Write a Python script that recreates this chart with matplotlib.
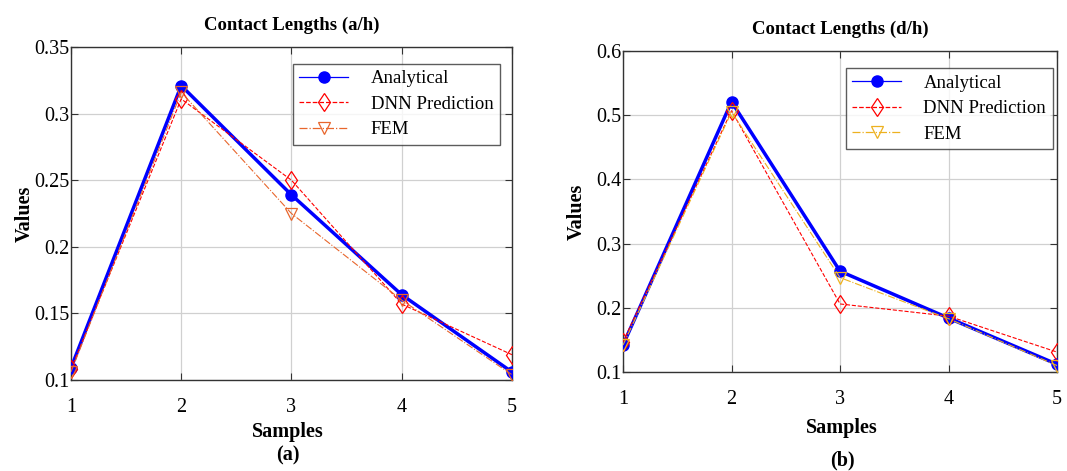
import matplotlib
matplotlib.use("Agg")
import matplotlib.pyplot as plt

plt.rcParams['font.family'] = ['Liberation Serif', 'DejaVu Serif']

samples = [1, 2, 3, 4, 5]

# contact length a/h
ah_analytical = [0.109, 0.321, 0.239, 0.164, 0.106]
ah_dnn = [0.108, 0.311, 0.250, 0.157, 0.119]
ah_fem = [0.106, 0.316, 0.225, 0.160, 0.104]

# contact length d/h
dh_analytical = [0.142, 0.521, 0.257, 0.184, 0.112]
dh_dnn = [0.147, 0.507, 0.206, 0.187, 0.131]
dh_fem = [0.142, 0.505, 0.247, 0.183, 0.110]

yticks_a = [0.1, 0.15, 0.2, 0.25, 0.3, 0.35]
yticks_b = [0.1, 0.2, 0.3, 0.4, 0.5, 0.6]

W, H = 1067, 471


def draw_panel(fig, ax, analytical, dnn, fem, fem_color, title, tag, yticks,
               ylabels, leg_anchor, ylabel_pad, label_xy, tag_y):
    ax.plot(samples, analytical, '-o', color='#0000ff', lw=2.5, ms=8,
            label='Analytical', zorder=3)
    ax.plot(samples, dnn, '--d', color='#ff0000', lw=0.8, ms=9.5,
            mfc='none', mew=0.9, label='DNN Prediction', zorder=4)
    ax.plot(samples, fem, '-.v', color=fem_color, lw=0.8, ms=8.5,
            mfc='none', mew=0.9, label='FEM', zorder=4)

    ax.set_xlim(1, 5)
    ax.set_ylim(yticks[0], yticks[-1])
    ax.set_xticks(samples)
    ax.set_yticks(yticks)
    ax.set_yticklabels(ylabels)
    ax.grid(True, color='#d0d0d0', lw=0.9)
    ax.set_axisbelow(True)
    ax.tick_params(direction='in', length=5, labelsize=14.5,
                   top=True, right=True, color='#333333')
    ax.tick_params(axis='x', pad=13)
    ax.tick_params(axis='y', pad=1)
    for s in ax.spines.values():
        s.set_color('#333333')
        s.set_linewidth(1.0)

    ax.set_title(title, fontsize=13.5, fontweight='bold', pad=12)
    ax.set_ylabel('Values', fontsize=14.5, fontweight='bold',
                  labelpad=ylabel_pad)

    # axis name and panel tag below the tick labels
    lx, ly = label_xy
    fig.text(lx / W, 1 - ly / H, 'Samples', fontsize=14.5,
             fontweight='bold', ha='center', va='center')
    fig.text(lx / W, 1 - tag_y / H, '(' + tag + ')', fontsize=14.5,
             fontweight='bold', ha='center', va='center')

    leg = ax.legend(loc='upper right', bbox_to_anchor=leg_anchor,
                    fontsize=13.5, frameon=True, fancybox=False,
                    handlelength=2.6, borderpad=0.35, labelspacing=0.45,
                    handletextpad=1.2, borderaxespad=0.0)
    leg.get_frame().set_edgecolor('#333333')
    leg.get_frame().set_linewidth(1.0)
    for h in leg.legend_handles:
        h.set_linewidth(0.9)


fig = plt.figure(figsize=(10.67, 4.71), dpi=100)
ax1 = fig.add_axes([0.0665, 0.1932, 0.4133, 0.707])
ax2 = fig.add_axes([0.5839, 0.2102, 0.4068, 0.6815])

draw_panel(fig, ax1, ah_analytical, ah_dnn, ah_fem, '#e8662c',
           'Contact Lengths (a/h)', 'a', yticks_a,
           ['0.1', '0.15', '0.2', '0.25', '0.3', '0.35'], (0.973, 0.95),
           0, (288, 432), 455)
draw_panel(fig, ax2, dh_analytical, dh_dnn, dh_fem, '#edb120',
           'Contact Lengths (d/h)', 'b', yticks_b,
           ['0.1', '0.2', '0.3', '0.4', '0.5', '0.6'], (0.99, 0.947),
           7, (842, 428), 460)

fig.savefig('out.png', dpi=100)
